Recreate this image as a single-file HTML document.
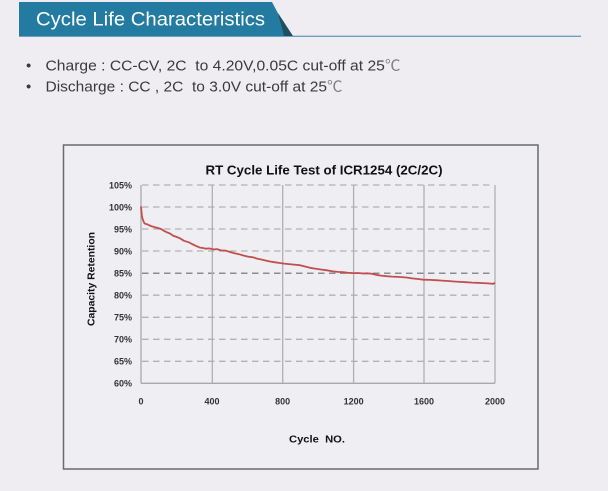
<!DOCTYPE html>
<html>
<head>
<meta charset="utf-8">
<style>
  html, body { margin: 0; padding: 0; background: #efedf2; }
  body { width: 608px; height: 491px; overflow: hidden; }
  svg { display: block; }
</style>
</head>
<body>
<svg width="608" height="491" viewBox="0 0 608 491" xmlns="http://www.w3.org/2000/svg">
  <rect x="0" y="0" width="608" height="491" fill="#efedf2"/>

  <!-- Header banner -->
  <line x1="19" y1="36.3" x2="581" y2="36.3" stroke="#6f9fbb" stroke-width="1.4"/>
  <polygon points="19,2 272,2 290,36 19,36" fill="#237ba1"/>
  <polygon points="278,13 293,36 284,36" fill="#1f4e63"/>
  <text x="36" y="25.5" font-family="Liberation Sans, sans-serif" font-size="19.5" fill="#ffffff" textLength="229" lengthAdjust="spacingAndGlyphs">Cycle Life Characteristics</text>

  <!-- Bullets -->
  <g font-family="'Liberation Sans', 'Noto Sans CJK SC', sans-serif" font-size="15" fill="#3a3a3a">
    <text x="26" y="70.5">•</text>
    <text x="45.5" y="70.5" textLength="355" lengthAdjust="spacingAndGlyphs">Charge : CC-CV, 2C&#160; to 4.20V,0.05C cut-off at 25<tspan fill="#808080">℃</tspan></text>
    <text x="26" y="91.5">•</text>
    <text x="45.5" y="91.5" textLength="297" lengthAdjust="spacingAndGlyphs">Discharge : CC , 2C&#160; to 3.0V cut-off at 25<tspan fill="#808080">℃</tspan></text>
  </g>

  <!-- Chart frame -->
  <rect x="63.5" y="145" width="474.5" height="324" fill="#efeef3" stroke="#6a6a6a" stroke-width="1.5"/>

  <!-- Title -->
  <text x="205.5" y="174.5" font-family="Liberation Sans, sans-serif" font-weight="bold" font-size="13" fill="#111" textLength="237" lengthAdjust="spacingAndGlyphs">RT Cycle Life Test of ICR1254 (2C/2C)</text>

  <!-- Horizontal dashed gridlines -->
  <g stroke="#b2b1b6" stroke-width="1.3" stroke-dasharray="6.5 4.5" fill="none">
    <line x1="142" y1="185" x2="493" y2="185"/>
    <line x1="142" y1="207" x2="493" y2="207"/>
    <line x1="142" y1="229" x2="493" y2="229"/>
    <line x1="142" y1="251" x2="493" y2="251"/>
    <line x1="142" y1="295.2" x2="493" y2="295.2"/>
    <line x1="142" y1="317.3" x2="493" y2="317.3"/>
    <line x1="142" y1="339.3" x2="493" y2="339.3"/>
    <line x1="142" y1="361.3" x2="493" y2="361.3"/>
  </g>
  <line x1="142" y1="273.2" x2="493" y2="273.2" stroke="#6c6c70" stroke-width="1.1" stroke-dasharray="6.5 4.5"/>

  <!-- Vertical gridlines -->
  <g stroke="#b0afb4" stroke-width="1.3">
    <line x1="212.3" y1="185" x2="212.3" y2="383.3"/>
    <line x1="282.7" y1="185" x2="282.7" y2="383.3"/>
    <line x1="353.6" y1="185" x2="353.6" y2="383.3"/>
    <line x1="424" y1="185" x2="424" y2="383.3"/>
    <line x1="495" y1="185" x2="495" y2="383.3"/>
  </g>
  <!-- Axes -->
  <g stroke="#a9a8ad" stroke-width="1.3">
    <line x1="141" y1="185" x2="141" y2="383.3"/>
    <line x1="141" y1="383.3" x2="495" y2="383.3"/>
  </g>

  <!-- Y tick labels -->
  <g font-family="Liberation Sans, sans-serif" font-weight="bold" font-size="9" fill="#333" text-anchor="end">
    <text x="132" y="188.3">105%</text>
    <text x="132" y="210.3">100%</text>
    <text x="132" y="232.3">95%</text>
    <text x="132" y="254.3">90%</text>
    <text x="132" y="276.4">85%</text>
    <text x="132" y="298.4">80%</text>
    <text x="132" y="320.5">75%</text>
    <text x="132" y="342.5">70%</text>
    <text x="132" y="364.5">65%</text>
    <text x="132" y="386.6">60%</text>
  </g>

  <!-- X tick labels -->
  <g font-family="Liberation Sans, sans-serif" font-weight="bold" font-size="9" fill="#333" text-anchor="middle">
    <text x="141" y="404.5">0</text>
    <text x="212" y="404.5">400</text>
    <text x="282.7" y="404.5">800</text>
    <text x="353.6" y="404.5">1200</text>
    <text x="424" y="404.5">1600</text>
    <text x="495" y="404.5">2000</text>
  </g>

  <!-- Axis titles -->
  <text x="289" y="442.5" font-family="Liberation Sans, sans-serif" font-weight="bold" font-size="10.5" fill="#111" textLength="56" lengthAdjust="spacingAndGlyphs">Cycle&#160; NO.</text>
  <text transform="translate(94.5,326) rotate(-90)" x="0" y="0" font-family="Liberation Sans, sans-serif" font-weight="bold" font-size="10" fill="#111" textLength="94" lengthAdjust="spacingAndGlyphs">Capacity Retention</text>

  <!-- Data curve -->
  <polyline fill="none" stroke="#c0504d" stroke-width="1.8" stroke-linejoin="round" points="
    141,206.5 141.4,211 141.9,215.8 142.5,218.5 143.1,220.2 144,222.6 145.1,223.8 147,224.2 149.9,225.6
    152,226.4 155,227.2 157.5,227.9 159.9,228.6 162,229.5 164.5,231.2 167.6,232.6 170,233.5 173,235.6
    176.8,237 180,238.3 184,240.8 188.8,242.3 192,244 196,245.9 199.9,247.6 203,248 206,248.7 209,248.4
    213.4,249.4 217,249.1 221,250.4 226,250.7 230,252 235,253.4 239,254.2 243.3,255.5 248,256.6 253,257.3
    257,258.6 261.4,259.5 266,260.6 270,261.5 275,262.3 279.9,263 284,263.6 289,264.1 294,264.6 299.9,265.2
    304,266.3 310,267.8 315,268.6 320,269.4 326,270.2 333.2,271.4 338,271.9 343,272.2 348,272.8 353.2,273.1
    358,273 363,273.5 367,273.3 371.1,273.6 376,274.8 381,275.6 386.7,276.2 392,276.6 398,276.9 406.5,277.5
    412,278.4 418,279 423.3,279.7 430,279.9 436,280.2 441.9,280.6 448,281 454,281.5 459.9,281.9
    466,282.2 472,282.6 477.3,282.8 483,283.1 488,283.4 493.2,283.8 495,282.8"/>
</svg>
</body>
</html>
